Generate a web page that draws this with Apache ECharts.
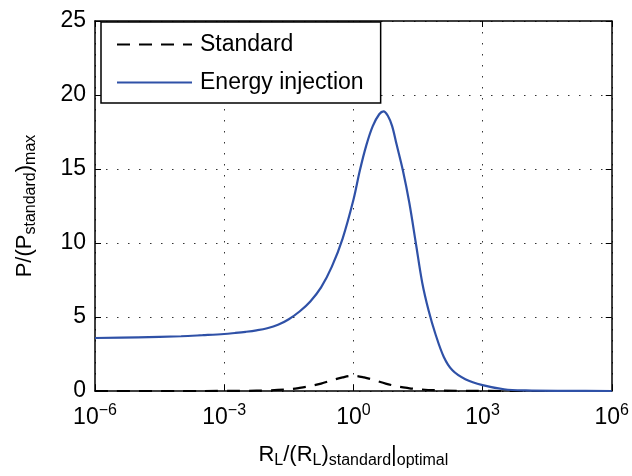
<!DOCTYPE html>
<html>
<head>
<meta charset="utf-8">
<script src="https://cdn.jsdelivr.net/npm/echarts@6/dist/echarts.min.js"></script>
<style>
  html, body { margin: 0; padding: 0; background: #fff; }
  #chart { width: 632px; height: 476px; }
</style>
</head>
<body>
<div id="chart"></div>
<script>
// x positions are decades: R_L/(R_L)_opt = 10^exp
const blueExp = [-6, -5, -4, -3.5, -3, -2.75, -2.5, -2.25, -2, -1.75, -1.5, -1.25, -1, -0.75, -0.5, -0.25, 0, 0.15, 0.3, 0.45, 0.6, 0.7, 0.8, 0.9, 1, 1.15, 1.3, 1.45, 1.6, 1.75, 1.9, 2.1, 2.3, 2.6, 3, 3.5, 4, 5, 6];
const blueVal = [3.58, 3.63, 3.7, 3.77, 3.85, 3.92, 4.0, 4.1, 4.24, 4.47, 4.85, 5.37, 6.05, 7.0, 8.4, 10.3, 12.9, 14.9, 16.6, 17.9, 18.7, 18.9, 18.6, 17.9, 16.7, 14.9, 12.7, 10.0, 7.3, 5.4, 3.9, 2.3, 1.4, 0.8, 0.4, 0.12, 0.04, 0.01, 0];
const stdExp = [-6, -4, -3, -2.5, -2, -1.5, -1.25, -1, -0.75, -0.5, -0.25, 0, 0.25, 0.5, 0.75, 1, 1.25, 1.5, 2, 2.5, 3, 4, 6];
const stdVal = [0, 0.0004, 0.004, 0.012, 0.04, 0.12, 0.21, 0.33, 0.5, 0.72, 0.92, 1.03, 0.92, 0.72, 0.5, 0.33, 0.21, 0.12, 0.04, 0.012, 0.004, 0.0004, 0];
const xTicks = [-6, -3, 0, 3, 6];
const yTicks = [0, 5, 10, 15, 20, 25];

const zip = (xs, ys) => xs.map((x, i) => [x, ys[i]]);
const font = 'Liberation Sans, Arial, Helvetica, sans-serif';
const grid = { type: [1.5, 9.5], color: '#333', width: 1 };
const tick = { show: true, inside: true, length: 6, lineStyle: { color: '#000', width: 1 } };
const frame = { show: true, onZero: false, lineStyle: { color: '#000', width: 1.5 } };

const chart = echarts.init(document.getElementById('chart'));
chart.setOption({
  animation: false,
  backgroundColor: '#fff',
  textStyle: { fontFamily: font },
  grid: { left: 95, right: 19, top: 21, bottom: 85 },
  legend: {
    orient: 'vertical', left: 101, top: 22,
    backgroundColor: '#fff', borderColor: '#000', borderWidth: 1.5, borderRadius: 0,
    padding: [11, 17, 9, 15], itemGap: 15, itemWidth: 75, itemHeight: 20,
    itemStyle: { opacity: 0 },
    textStyle: { fontFamily: font, fontSize: 23, color: '#000', padding: [0, 0, 0, 3] },
    data: ['Standard', 'Energy injection']
  },
  xAxis: [{
    type: 'value', min: xTicks[0], max: xTicks[xTicks.length - 1], interval: 3,
    axisLine: frame, axisTick: tick,
    splitLine: { show: true, lineStyle: grid },
    axisLabel: {
      margin: 12, color: '#000', fontFamily: font,
      formatter: v => `{b|10}{s|${v < 0 ? '\u2212' : ''}${Math.abs(v)}}`,
      rich: {
        b: { fontSize: 23, fontFamily: font, color: '#000' },
        s: { fontSize: 16, fontFamily: font, color: '#000', padding: [0, 0, 14, 0] }
      }
    },
    name: '{n|R}{sub|L}{n|/(R}{sub|L}{n|)}{sub|standard}{n||}{sub|optimal}',
    nameLocation: 'middle', nameGap: 50,
    nameTextStyle: {
      rich: {
        n: { fontSize: 22, fontFamily: font, color: '#000' },
        sub: { fontSize: 16, fontFamily: font, color: '#000', padding: [12, 0, 0, 0] }
      }
    }
  }, {
    type: 'value', position: 'top', min: xTicks[0], max: xTicks[xTicks.length - 1], interval: 3,
    axisLine: frame, axisTick: tick, axisLabel: { show: false }, splitLine: { show: false }
  }],
  yAxis: [{
    type: 'value', min: yTicks[0], max: yTicks[yTicks.length - 1], interval: 5,
    axisLine: frame, axisTick: tick,
    splitLine: { show: true, lineStyle: grid },
    axisLabel: { margin: 9, fontSize: 23, color: '#000', fontFamily: font },
    name: '{n|P/(P}{sub|standard}{n|)}{sub|max}',
    nameLocation: 'middle', nameGap: 56,
    nameTextStyle: {
      rich: {
        n: { fontSize: 22, fontFamily: font, color: '#000' },
        sub: { fontSize: 16, fontFamily: font, color: '#000', padding: [12, 0, 0, 0] }
      }
    }
  }, {
    type: 'value', position: 'right', min: yTicks[0], max: yTicks[yTicks.length - 1], interval: 5,
    axisLine: frame, axisTick: tick, axisLabel: { show: false }, splitLine: { show: false }
  }],
  series: [{
    name: 'Standard', type: 'line', smooth: 0.35, symbol: 'none',
    data: zip(stdExp, stdVal),
    lineStyle: { color: '#000', width: 2.2, type: [13, 9] },
    itemStyle: { color: '#000' }, z: 3
  }, {
    name: 'Energy injection', type: 'line', smooth: 0.35, symbol: 'none',
    data: zip(blueExp, blueVal),
    lineStyle: { color: '#2f51a7', width: 2.2 },
    itemStyle: { color: '#2f51a7' }, z: 4
  }]
});
</script>
</body>
</html>
